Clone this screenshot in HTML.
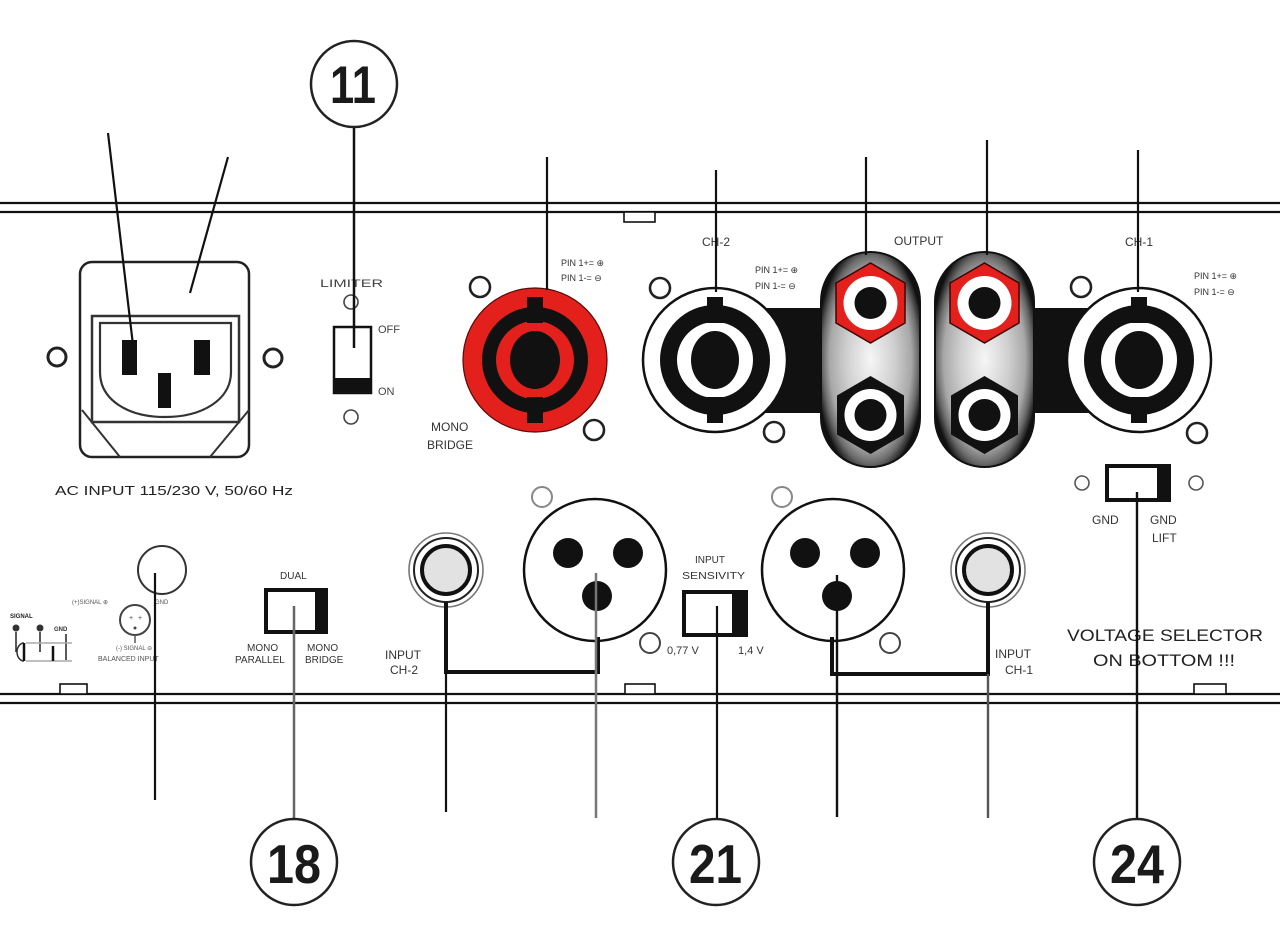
<!DOCTYPE html>
<html>
<head>
<meta charset="utf-8">
<style>
  html,body{margin:0;padding:0;background:#fff;}
  svg{display:block;}
  text{font-family:"Liberation Sans",Arial,sans-serif;}
</style>
</head>
<body>
<svg width="1280" height="945" viewBox="0 0 1280 945" xmlns="http://www.w3.org/2000/svg">
  <defs>
    <radialGradient id="pod" cx="50%" cy="50%" r="55%">
      <stop offset="0" stop-color="#f6f6f6"/>
      <stop offset="0.45" stop-color="#cfcfcf"/>
      <stop offset="0.75" stop-color="#a8a8a8"/>
      <stop offset="0.88" stop-color="#6a6a6a"/>
      <stop offset="0.97" stop-color="#2a2a2a"/>
      <stop offset="1" stop-color="#111"/>
    </radialGradient>
  </defs>
  <rect width="1280" height="945" fill="#fff"/>

  <!-- panel lines -->
  <line x1="0" y1="203" x2="1280" y2="203" stroke="#111" stroke-width="2.2"/>
  <line x1="0" y1="212" x2="1280" y2="212" stroke="#111" stroke-width="2.2"/>
  <line x1="0" y1="694" x2="1280" y2="694" stroke="#111" stroke-width="2.2"/>
  <line x1="0" y1="703" x2="1280" y2="703" stroke="#111" stroke-width="2.2"/>
  <rect x="624" y="212" width="31" height="10" fill="#fff" stroke="#111" stroke-width="1.6"/>
  <rect x="60" y="684" width="27" height="10" fill="#fff" stroke="#111" stroke-width="1.6"/>
  <rect x="625" y="684" width="30" height="10" fill="#fff" stroke="#111" stroke-width="1.6"/>
  <rect x="1194" y="684" width="32" height="10" fill="#fff" stroke="#111" stroke-width="1.6"/>

  <!-- black bars behind outputs -->
  <rect x="760" y="308" width="70" height="105" fill="#111"/>
  <rect x="1020" y="308" width="75" height="105" fill="#111"/>

  <!-- power inlet -->
  <rect x="80" y="262" width="169" height="195" rx="12" fill="#fff" stroke="#222" stroke-width="2.5"/>
  <rect x="92" y="316" width="147" height="106" fill="#fff" stroke="#333" stroke-width="2.5"/>
  <path d="M100,323 H231 V372 C231,400 202,417 165,417 C128,417 100,400 100,372 Z" fill="#fff" stroke="#333" stroke-width="2.2"/>
  <line x1="82" y1="410" x2="120" y2="457" stroke="#333" stroke-width="2"/>
  <line x1="249" y1="410" x2="210" y2="457" stroke="#333" stroke-width="2"/>
  <rect x="122" y="340" width="15" height="35" fill="#111"/>
  <rect x="194" y="340" width="16" height="35" fill="#111"/>
  <rect x="158" y="373" width="13" height="35" fill="#111"/>
  <circle cx="57" cy="357" r="9" fill="none" stroke="#222" stroke-width="3"/>
  <circle cx="273" cy="358" r="9" fill="none" stroke="#222" stroke-width="3"/>
  <text x="55" y="495" font-size="13" fill="#222" textLength="238" lengthAdjust="spacingAndGlyphs">AC INPUT 115/230 V, 50/60 Hz</text>

  <!-- limiter -->
  <text x="320" y="287" font-size="11" fill="#444" textLength="63" lengthAdjust="spacingAndGlyphs">LIMITER</text>
  <circle cx="351" cy="302" r="7" fill="none" stroke="#444" stroke-width="1.6"/>
  <rect x="334" y="327" width="37" height="66" fill="#fff" stroke="#111" stroke-width="2.5"/>
  <rect x="334" y="378" width="37" height="15" fill="#111"/>
  <text x="378" y="333" font-size="11" fill="#444">OFF</text>
  <text x="378" y="395" font-size="11" fill="#444">ON</text>
  <circle cx="351" cy="417" r="7" fill="none" stroke="#444" stroke-width="1.6"/>

  <!-- mono bridge speakon (red) -->
  <circle cx="535" cy="360" r="72" fill="#e3201b" stroke="#5a0a08" stroke-width="1.2"/>
  <circle cx="535" cy="360" r="53" fill="#111"/>
  <circle cx="535" cy="360" r="39" fill="#e3201b"/>
  <ellipse cx="535" cy="360" rx="25" ry="29" fill="#111"/>
  <rect x="527" y="297" width="16" height="26" fill="#111"/>
  <rect x="527" y="397" width="16" height="26" fill="#111"/>
  <circle cx="480" cy="287" r="10" fill="none" stroke="#222" stroke-width="2.6"/>
  <circle cx="594" cy="430" r="10" fill="none" stroke="#222" stroke-width="2.6"/>
  <text x="561" y="266" font-size="9" fill="#333">PIN 1+= ⊕</text>
  <text x="561" y="281" font-size="9" fill="#333">PIN 1-= ⊖</text>
  <text x="431" y="431" font-size="12" fill="#333">MONO</text>
  <text x="427" y="449" font-size="12" fill="#333">BRIDGE</text>

  <!-- CH-2 speakon -->
  <circle cx="715" cy="360" r="72" fill="#fff" stroke="#111" stroke-width="2.5"/>
  <circle cx="715" cy="360" r="55" fill="#111"/>
  <circle cx="715" cy="360" r="38" fill="#fff"/>
  <ellipse cx="715" cy="360" rx="24" ry="29" fill="#111"/>
  <rect x="707" y="297" width="16" height="26" fill="#111"/>
  <rect x="707" y="397" width="16" height="26" fill="#111"/>
  <circle cx="660" cy="288" r="10" fill="none" stroke="#222" stroke-width="2.6"/>
  <circle cx="774" cy="432" r="10" fill="none" stroke="#222" stroke-width="2.6"/>
  <text x="702" y="246" font-size="12" fill="#333">CH-2</text>
  <text x="755" y="273" font-size="9" fill="#333">PIN 1+= ⊕</text>
  <text x="755" y="289" font-size="9" fill="#333">PIN 1-= ⊖</text>

  <!-- CH-1 speakon -->
  <circle cx="1139" cy="360" r="72" fill="#fff" stroke="#111" stroke-width="2.5"/>
  <circle cx="1139" cy="360" r="55" fill="#111"/>
  <circle cx="1139" cy="360" r="38" fill="#fff"/>
  <ellipse cx="1139" cy="360" rx="24" ry="29" fill="#111"/>
  <rect x="1131" y="297" width="16" height="26" fill="#111"/>
  <rect x="1131" y="397" width="16" height="26" fill="#111"/>
  <circle cx="1081" cy="287" r="10" fill="none" stroke="#222" stroke-width="2.6"/>
  <circle cx="1197" cy="433" r="10" fill="none" stroke="#222" stroke-width="2.6"/>
  <text x="1125" y="246" font-size="12" fill="#333">CH-1</text>
  <text x="1194" y="279" font-size="9" fill="#333">PIN 1+= ⊕</text>
  <text x="1194" y="295" font-size="9" fill="#333">PIN 1-= ⊖</text>

  <!-- OUTPUT pods -->
  <text x="894" y="245" font-size="12" fill="#333">OUTPUT</text>
  <rect x="821" y="252" width="99" height="215" rx="49.5" fill="url(#pod)" stroke="#111" stroke-width="2"/>
  <rect x="935" y="252" width="99" height="215" rx="49.5" fill="url(#pod)" stroke="#111" stroke-width="2"/>
  <!-- pod 1 -->
  <polygon points="870.5,263 905,283 905,323 870.5,343 836,323 836,283" fill="#e3201b" stroke="#3a0505" stroke-width="1.5"/>
  <circle cx="870.5" cy="303" r="27" fill="#fff"/>
  <circle cx="870.5" cy="303" r="16" fill="#111"/>
  <polygon points="870.5,376 904,395.5 904,434.5 870.5,454 837,434.5 837,395.5" fill="#111"/>
  <circle cx="870.5" cy="415" r="26" fill="#fff"/>
  <circle cx="870.5" cy="415" r="16" fill="#111"/>
  <!-- pod 2 -->
  <polygon points="984.5,263 1019,283 1019,323 984.5,343 950,323 950,283" fill="#e3201b" stroke="#3a0505" stroke-width="1.5"/>
  <circle cx="984.5" cy="303" r="27" fill="#fff"/>
  <circle cx="984.5" cy="303" r="16" fill="#111"/>
  <polygon points="984.5,376 1018,395.5 1018,434.5 984.5,454 951,434.5 951,395.5" fill="#111"/>
  <circle cx="984.5" cy="415" r="26" fill="#fff"/>
  <circle cx="984.5" cy="415" r="16" fill="#111"/>

  <!-- GND switch -->
  <circle cx="1082" cy="483" r="7" fill="none" stroke="#555" stroke-width="1.6"/>
  <circle cx="1196" cy="483" r="7" fill="none" stroke="#555" stroke-width="1.6"/>
  <rect x="1105" y="464" width="66" height="38" fill="#111"/>
  <rect x="1109" y="468" width="48" height="30" fill="#fff"/>
  <text x="1092" y="524" font-size="12" fill="#333">GND</text>
  <text x="1150" y="524" font-size="12" fill="#333">GND</text>
  <text x="1152" y="542" font-size="12" fill="#333">LIFT</text>

  <!-- bottom-left small diagrams -->
  <circle cx="162" cy="570" r="24" fill="none" stroke="#333" stroke-width="2"/>
  <circle cx="135" cy="620" r="15" fill="none" stroke="#444" stroke-width="2"/>
  <text x="129" y="620" font-size="7" fill="#444">+</text>
  <text x="138" y="620" font-size="7" fill="#444">+</text>
  <circle cx="135" cy="628" r="1.5" fill="#444"/>
  <line x1="135" y1="635" x2="135" y2="643" stroke="#555" stroke-width="1.5"/>
  <text x="72" y="604" font-size="6" fill="#555">(+)SIGNAL ⊕</text>
  <text x="155" y="604" font-size="6" fill="#555">GND</text>
  <text x="116" y="650" font-size="6" fill="#555">(-) SIGNAL ⊖</text>
  <text x="98" y="661" font-size="7" fill="#555">BALANCED INPUT</text>
  <text x="10" y="618" font-size="6" font-weight="bold" fill="#222">SIGNAL</text>
  <circle cx="16" cy="628" r="3.5" fill="#333"/>
  <circle cx="40" cy="628" r="3.5" fill="#333"/>
  <text x="54" y="631" font-size="6" font-weight="bold" fill="#333">GND</text>
  <line x1="16" y1="632" x2="16" y2="652" stroke="#222" stroke-width="1.5"/>
  <line x1="40" y1="632" x2="40" y2="652" stroke="#222" stroke-width="1.5"/>
  <line x1="66" y1="634" x2="66" y2="660" stroke="#222" stroke-width="1.5"/>
  <path d="M24,643 A7,9 0 1,0 24,661" fill="none" stroke="#333" stroke-width="1.5"/>
  <line x1="24" y1="643" x2="24" y2="661" stroke="#111" stroke-width="2.5"/>
  <line x1="26" y1="643" x2="72" y2="643" stroke="#aaa" stroke-width="1.5"/>
  <line x1="26" y1="661" x2="72" y2="661" stroke="#aaa" stroke-width="1.5"/>
  <line x1="53" y1="646" x2="53" y2="661" stroke="#111" stroke-width="2.5"/>

  <!-- DUAL switch -->
  <text x="280" y="579" font-size="10" fill="#333">DUAL</text>
  <rect x="264" y="588" width="64" height="46" fill="#111"/>
  <rect x="268" y="592" width="47" height="38" fill="#fff"/>
  <text x="247" y="651" font-size="10" fill="#333">MONO</text>
  <text x="235" y="663" font-size="10" fill="#333">PARALLEL</text>
  <text x="307" y="651" font-size="10" fill="#333">MONO</text>
  <text x="305" y="663" font-size="10" fill="#333">BRIDGE</text>

  <!-- jack CH-2 -->
  <circle cx="446" cy="570" r="37" fill="#fff" stroke="#777" stroke-width="1.6"/>
  <circle cx="446" cy="570" r="32" fill="#fff" stroke="#222" stroke-width="2"/>
  <circle cx="446" cy="570" r="24" fill="#e2e2e2" stroke="#111" stroke-width="4"/>
  <text x="385" y="659" font-size="12" fill="#333">INPUT</text>
  <text x="390" y="674" font-size="12" fill="#333">CH-2</text>

  <!-- XLR CH-2 -->
  <circle cx="542" cy="497" r="10" fill="none" stroke="#888" stroke-width="2"/>
  <circle cx="595" cy="570" r="71" fill="#fff" stroke="#111" stroke-width="2.5"/>
  <circle cx="568" cy="553" r="15" fill="#111"/>
  <circle cx="628" cy="553" r="15" fill="#111"/>
  <circle cx="597" cy="596" r="15" fill="#111"/>
  <circle cx="650" cy="643" r="10" fill="none" stroke="#444" stroke-width="2"/>

  <!-- input sensitivity -->
  <text x="695" y="563" font-size="10" fill="#333">INPUT</text>
  <text x="682" y="579" font-size="10" fill="#333" textLength="63" lengthAdjust="spacingAndGlyphs">SENSIVITY</text>
  <rect x="682" y="590" width="66" height="47" fill="#111"/>
  <rect x="686" y="594" width="46" height="39" fill="#fff"/>
  <text x="667" y="654" font-size="11" fill="#333">0,77 V</text>
  <text x="738" y="654" font-size="11" fill="#333">1,4 V</text>

  <!-- XLR CH-1 -->
  <circle cx="782" cy="497" r="10" fill="none" stroke="#888" stroke-width="2"/>
  <circle cx="833" cy="570" r="71" fill="#fff" stroke="#111" stroke-width="2.5"/>
  <circle cx="805" cy="553" r="15" fill="#111"/>
  <circle cx="865" cy="553" r="15" fill="#111"/>
  <circle cx="837" cy="596" r="15" fill="#111"/>
  <circle cx="890" cy="643" r="10" fill="none" stroke="#444" stroke-width="2"/>

  <!-- jack CH-1 -->
  <circle cx="988" cy="570" r="37" fill="#fff" stroke="#777" stroke-width="1.6"/>
  <circle cx="988" cy="570" r="32" fill="#fff" stroke="#222" stroke-width="2"/>
  <circle cx="988" cy="570" r="24" fill="#e2e2e2" stroke="#111" stroke-width="4"/>
  <text x="995" y="658" font-size="12" fill="#333">INPUT</text>
  <text x="1005" y="674" font-size="12" fill="#333">CH-1</text>

  <!-- voltage selector -->
  <text x="1067" y="641" font-size="17" fill="#222" textLength="196" lengthAdjust="spacingAndGlyphs">VOLTAGE SELECTOR</text>
  <text x="1093" y="666" font-size="17" fill="#222" textLength="142" lengthAdjust="spacingAndGlyphs">ON BOTTOM !!!</text>

  <!-- L connectors -->
  <path d="M446,602 L446,672 L598,672 L598,637" fill="none" stroke="#111" stroke-width="4"/>
  <path d="M832,637 L832,674 L988,674 L988,602" fill="none" stroke="#111" stroke-width="4"/>

  <!-- top leader lines -->
  <line x1="108" y1="133" x2="133" y2="345" stroke="#111" stroke-width="2.2"/>
  <line x1="228" y1="157" x2="190" y2="293" stroke="#111" stroke-width="2.2"/>
  <line x1="354" y1="127" x2="354" y2="348" stroke="#111" stroke-width="2.5"/>
  <line x1="547" y1="157" x2="547" y2="290" stroke="#111" stroke-width="2.2"/>
  <line x1="716" y1="170" x2="716" y2="292" stroke="#111" stroke-width="2.2"/>
  <line x1="866" y1="157" x2="866" y2="255" stroke="#111" stroke-width="2.2"/>
  <line x1="987" y1="140" x2="987" y2="255" stroke="#111" stroke-width="2.2"/>
  <line x1="1138" y1="150" x2="1138" y2="292" stroke="#111" stroke-width="2.2"/>

  <!-- bottom leader lines -->
  <line x1="155" y1="573" x2="155" y2="800" stroke="#111" stroke-width="2.2"/>
  <line x1="294" y1="606" x2="294" y2="819" stroke="#666" stroke-width="2.5"/>
  <line x1="446" y1="672" x2="446" y2="812" stroke="#111" stroke-width="2.2"/>
  <line x1="596" y1="573" x2="596" y2="818" stroke="#777" stroke-width="2.5"/>
  <line x1="717" y1="606" x2="717" y2="819" stroke="#111" stroke-width="2.2"/>
  <line x1="837" y1="575" x2="837" y2="817" stroke="#111" stroke-width="2.4"/>
  <line x1="988" y1="674" x2="988" y2="818" stroke="#555" stroke-width="2.4"/>
  <line x1="1137" y1="492" x2="1137" y2="819" stroke="#111" stroke-width="2.4"/>

  <!-- callout circles -->
  <circle cx="354" cy="84" r="43" fill="#fff" stroke="#222" stroke-width="2.5"/>
  <text x="330" y="103" font-size="53" font-weight="bold" fill="#1a1a1a" textLength="46" lengthAdjust="spacingAndGlyphs">11</text>

  <circle cx="294" cy="862" r="43" fill="#fff" stroke="#222" stroke-width="2.5"/>
  <text x="267" y="883" font-size="55" font-weight="bold" fill="#1a1a1a" textLength="54" lengthAdjust="spacingAndGlyphs">18</text>

  <circle cx="716" cy="862" r="43" fill="#fff" stroke="#222" stroke-width="2.5"/>
  <text x="689" y="883" font-size="55" font-weight="bold" fill="#1a1a1a" textLength="53" lengthAdjust="spacingAndGlyphs">21</text>

  <circle cx="1137" cy="862" r="43" fill="#fff" stroke="#222" stroke-width="2.5"/>
  <text x="1110" y="883" font-size="55" font-weight="bold" fill="#1a1a1a" textLength="54" lengthAdjust="spacingAndGlyphs">24</text>
</svg>
</body>
</html>
